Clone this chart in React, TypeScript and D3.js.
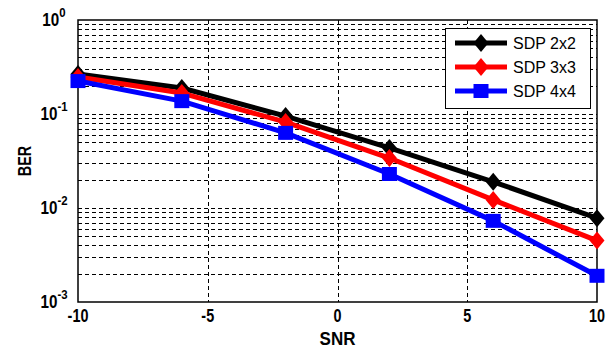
import React, { useRef, useEffect } from 'react';
import * as d3 from 'd3';

const snr = [-10, -6, -2, 2, 6, 10];
const ber2x2 = [0.267, 0.189, 0.095, 0.0435, 0.019, 0.0078];
const ber3x3 = [0.248, 0.167, 0.082, 0.034, 0.0122, 0.0045];
const ber4x4 = [0.224, 0.137, 0.063, 0.023, 0.0073, 0.0019];
const seriesNames = ['SDP 2x2', 'SDP 3x3', 'SDP 4x4'];
const xTicks = [-10, -5, 0, 5, 10];
const yExponents = [0, -1, -2, -3];

const diamondPath = "M0,-9L7.5,0L0,9L-7.5,0Z";
const squarePath = "M-7.5,-7L7.5,-7L7.5,7L-7.5,7Z";

const App: React.FC = () => {
    const svgRef = useRef<SVGSVGElement | null>(null);

    useEffect(() => {
        if (!svgRef.current) return;
        const svg = d3.select(svgRef.current);
        svg.selectAll("*").remove();

        const width = 613, height = 349;
        const margin = { top: 20, right: 16, bottom: 47, left: 78 };
        const x = d3.scaleLinear().domain([-10, 10]).range([margin.left, width - margin.right]);
        const y = d3.scaleLog().domain([1e-3, 1]).range([height - margin.bottom, margin.top]);
        const font = "Arial, 'Liberation Sans', sans-serif";

        svg.append("rect").attr("width", width).attr("height", height).attr("fill", "#fff");

        // horizontal grid at every minor and major tick
        const gridVals: number[] = [];
        for (let e = -3; e < 0; e++) {
            for (let m = 1; m <= 9; m++) gridVals.push(m * Math.pow(10, e));
        }
        const grid = svg.append("g").attr("stroke", "#000").attr("stroke-width", 1)
            .attr("stroke-dasharray", "4,3").attr("shape-rendering", "crispEdges");
        grid.selectAll("line.h").data(gridVals.filter(v => v > 1e-3)).join("line")
            .attr("x1", margin.left).attr("x2", width - margin.right)
            .attr("y1", d => Math.round(y(d)) + 0.5).attr("y2", d => Math.round(y(d)) + 0.5);
        grid.selectAll("line.v").data(xTicks.slice(1, -1)).join("line")
            .attr("class", "v")
            .attr("y1", margin.top).attr("y2", height - margin.bottom)
            .attr("x1", d => Math.round(x(d)) + 0.5).attr("x2", d => Math.round(x(d)) + 0.5);

        // frame
        svg.append("rect")
            .attr("x", margin.left).attr("y", margin.top)
            .attr("width", width - margin.right - margin.left)
            .attr("height", height - margin.bottom - margin.top)
            .attr("fill", "none").attr("stroke", "#000").attr("stroke-width", 1.5);

        // x tick labels
        svg.append("g").selectAll("text").data(xTicks).join("text")
            .attr("transform", d => `translate(${x(d)},${height - margin.bottom + 20}) scale(0.9,1.1)`)
            .attr("text-anchor", "middle")
            .style("font-family", font).style("font-size", "16px").style("font-weight", "bold")
            .text(d => String(d));

        // y tick labels as 10^e
        const yl = svg.append("g").selectAll("text").data(yExponents).join("text")
            .attr("transform", d => `translate(${margin.left - 24},${y(Math.pow(10, d)) + 6}) scale(0.95,1.1)`)
            .attr("text-anchor", "middle")
            .style("font-family", font).style("font-size", "16px").style("font-weight", "bold");
        yl.append("tspan").text("10");
        yl.append("tspan").attr("dy", -8).style("font-size", "12px").text(d => String(d));

        // axis titles
        svg.append("text")
            .attr("transform", `translate(${x(0)},${height - 4}) scale(1,1.1)`)
            .attr("text-anchor", "middle")
            .style("font-family", font).style("font-size", "17px").style("font-weight", "bold")
            .text("SNR");
        svg.append("text")
            .attr("transform", `translate(31,${(margin.top + height - margin.bottom) / 2}) rotate(-90) scale(0.8,1)`)
            .attr("text-anchor", "middle")
            .style("font-family", font).style("font-size", "18px").style("font-weight", "bold")
            .text("BER");

        const series = [
            { name: seriesNames[0], values: ber2x2, color: "#000000", marker: diamondPath },
            { name: seriesNames[1], values: ber3x3, color: "#ff0000", marker: diamondPath },
            { name: seriesNames[2], values: ber4x4, color: "#0000ff", marker: squarePath },
        ];

        const line = d3.line<number>().x((d, i) => x(snr[i])).y(d => y(d));

        series.forEach(s => {
            const g = svg.append("g");
            g.append("path").attr("d", line(s.values))
                .attr("fill", "none").attr("stroke", s.color).attr("stroke-width", 5)
                .attr("stroke-linejoin", "round");
            g.selectAll("path.m").data(s.values).join("path")
                .attr("class", "m")
                .attr("transform", (d, i) => `translate(${x(snr[i])},${y(d)})`)
                .attr("d", s.marker)
                .attr("fill", s.color);
        });

        // legend
        const lg = svg.append("g");
        lg.append("rect").attr("x", 445.5).attr("y", 28.5).attr("width", 145).attr("height", 80)
            .attr("fill", "#fff").attr("stroke", "#000").attr("stroke-width", 1);
        series.forEach((s, i) => {
            const ly = 43 + i * 24;
            lg.append("line").attr("x1", 455).attr("x2", 507).attr("y1", ly).attr("y2", ly)
                .attr("stroke", s.color).attr("stroke-width", 5);
            lg.append("path").attr("transform", `translate(481,${ly})`)
                .attr("d", s.marker)
                .attr("fill", s.color);
            lg.append("text").attr("x", 513).attr("y", ly + 6)
                .style("font-family", font).style("font-size", "16px")
                .text(s.name);
        });
    }, []);

    return (
        <div style={{ position: 'absolute', left: 0, top: 0 }}>
            <svg ref={svgRef} width={613} height={349} style={{ display: 'block' }}></svg>
        </div>
    );
};

export default App;
